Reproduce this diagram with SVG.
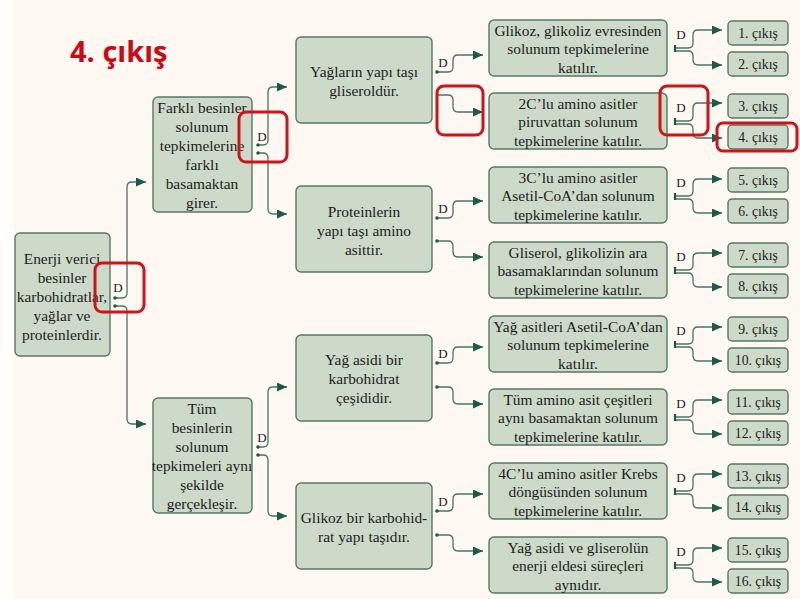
<svg xmlns="http://www.w3.org/2000/svg" width="800" height="599" viewBox="0 0 800 599">
<defs>
<marker id="ah" markerUnits="userSpaceOnUse" markerWidth="11" markerHeight="9" refX="10" refY="4.5" orient="auto">
<path d="M0,0 L10,4.5 L0,9 z" fill="#1d5b48"/>
</marker>
<style>
.bg{fill:#fdf8f2}
.box{fill:#cddac9;stroke:#577868;stroke-width:1.4}
.t{font-family:"Liberation Serif","Times New Roman",serif;font-size:15.4px;fill:#1c1c1c;text-anchor:middle}
.o{font-family:"Liberation Serif","Times New Roman",serif;font-size:13.7px;fill:#1c1c1c;text-anchor:middle}
.d{font-family:"Liberation Serif","Times New Roman",serif;font-size:13px;fill:#1c1c1c;text-anchor:middle}
.c{fill:none;stroke:#4c7264;stroke-width:1.3;marker-end:url(#ah)}
.dot{fill:#1d5b48}
.bar{stroke:#1d5b48;stroke-width:2.2}
.hl{fill:none;stroke:#d0121b;stroke-width:3}
.title{font-family:"Open Sans","Liberation Sans",sans-serif;font-weight:bold;font-size:29px;fill:#cc0a14}
</style>
</defs>
<rect width="800" height="599" fill="#fffefc"/>
<rect class="bg" x="14" y="0" width="786" height="599"/>

<text class="title" x="70" y="62">4. çıkış</text>

<g id="n0">
<rect class="box" x="15" y="233" width="95" height="123" rx="5"/>
<text class="t" x="62" y="264">Enerji verici</text>
<text class="t" x="62" y="283">besinler</text>
<text class="t" x="62" y="302">karbohidratlar,</text>
<text class="t" x="62" y="321">yağlar ve</text>
<text class="t" x="62" y="340">proteinlerdir.</text>
</g>

<g id="n1a">
<rect class="box" x="153" y="97" width="99" height="115" rx="5"/>
<text class="t" x="202" y="113">Farklı besinler</text>
<text class="t" x="202" y="132">solunum</text>
<text class="t" x="202" y="151">tepkimelerine</text>
<text class="t" x="202" y="170">farklı</text>
<text class="t" x="202" y="189">basamaktan</text>
<text class="t" x="202" y="208">girer.</text>
</g>

<g id="n1b">
<rect class="box" x="153" y="398" width="99" height="115" rx="5"/>
<text class="t" x="202" y="414">Tüm</text>
<text class="t" x="202" y="433">besinlerin</text>
<text class="t" x="202" y="452">solunum</text>
<text class="t" x="202" y="471">tepkimeleri aynı</text>
<text class="t" x="202" y="490">şekilde</text>
<text class="t" x="202" y="509">gerçekleşir.</text>
</g>

<g id="n2a">
<rect class="box" x="296" y="37" width="136" height="86" rx="5"/>
<text class="t" x="364" y="77">Yağların yapı taşı</text>
<text class="t" x="364" y="96">gliseroldür.</text>
</g>
<g id="n2b">
<rect class="box" x="296" y="186" width="136" height="86" rx="5"/>
<text class="t" x="364" y="217">Proteinlerin</text>
<text class="t" x="364" y="236">yapı taşı amino</text>
<text class="t" x="364" y="255">asittir.</text>
</g>
<g id="n2c">
<rect class="box" x="296" y="335" width="136" height="86" rx="5"/>
<text class="t" x="364" y="365">Yağ asidi bir</text>
<text class="t" x="364" y="384">karbohidrat</text>
<text class="t" x="364" y="403">çeşididir.</text>
</g>
<g id="n2d">
<rect class="box" x="296" y="483" width="136" height="86" rx="5"/>
<text class="t" x="364" y="523">Glikoz bir karbohid-</text>
<text class="t" x="364" y="542">rat yapı taşıdır.</text>
</g>

<g id="n3a">
<rect class="box" x="489" y="20" width="178" height="56" rx="5"/>
<text class="t" x="578" y="36">Glikoz, glikoliz evresinden</text>
<text class="t" x="578" y="54">solunum tepkimelerine</text>
<text class="t" x="578" y="73">katılır.</text>
</g>
<g id="n3b">
<rect class="box" x="489" y="93" width="178" height="56" rx="5"/>
<text class="t" x="578" y="109">2C’lu amino asitler</text>
<text class="t" x="578" y="127">piruvattan solunum</text>
<text class="t" x="578" y="146">tepkimelerine katılır.</text>
</g>
<g id="n3c">
<rect class="box" x="489" y="167" width="178" height="56" rx="5"/>
<text class="t" x="578" y="183">3C’lu amino asitler</text>
<text class="t" x="578" y="201">Asetil-CoA’dan solunum</text>
<text class="t" x="578" y="220">tepkimelerine katılır.</text>
</g>
<g id="n3d">
<rect class="box" x="489" y="242" width="178" height="56" rx="5"/>
<text class="t" x="578" y="258">Gliserol, glikolizin ara</text>
<text class="t" x="578" y="276">basamaklarından solunum</text>
<text class="t" x="578" y="295">tepkimelerine katılır.</text>
</g>
<g id="n3e">
<rect class="box" x="489" y="316" width="178" height="56" rx="5"/>
<text class="t" x="578" y="332">Yağ asitleri Asetil-CoA’dan</text>
<text class="t" x="578" y="350">solunum tepkimelerine</text>
<text class="t" x="578" y="369">katılır.</text>
</g>
<g id="n3f">
<rect class="box" x="489" y="389" width="178" height="56" rx="5"/>
<text class="t" x="578" y="405">Tüm amino asit çeşitleri</text>
<text class="t" x="578" y="423">aynı basamaktan solunum</text>
<text class="t" x="578" y="442">tepkimelerine katılır.</text>
</g>
<g id="n3g">
<rect class="box" x="489" y="463" width="178" height="56" rx="5"/>
<text class="t" x="578" y="479">4C’lu amino asitler Krebs</text>
<text class="t" x="578" y="497">döngüsünden solunum</text>
<text class="t" x="578" y="516">tepkimelerine katılır.</text>
</g>
<g id="n3h">
<rect class="box" x="489" y="537" width="178" height="56" rx="5"/>
<text class="t" x="578" y="553">Yağ asidi ve gliserolün</text>
<text class="t" x="578" y="571">enerji eldesi süreçleri</text>
<text class="t" x="578" y="590">aynıdır.</text>
</g>

<g id="outputs">
<g id="o1"><rect class="box" x="728" y="21" width="60" height="24" rx="4"/><text class="o" x="758" y="38">1. çıkış</text></g>
<g id="o2"><rect class="box" x="728" y="52" width="60" height="24" rx="4"/><text class="o" x="758" y="69">2. çıkış</text></g>
<g id="o3"><rect class="box" x="728" y="94" width="60" height="24" rx="4"/><text class="o" x="758" y="111">3. çıkış</text></g>
<g id="o4"><rect class="box" x="728" y="125" width="60" height="24" rx="4"/><text class="o" x="758" y="142">4. çıkış</text></g>
<g id="o5"><rect class="box" x="728" y="168" width="60" height="24" rx="4"/><text class="o" x="758" y="185">5. çıkış</text></g>
<g id="o6"><rect class="box" x="728" y="199" width="60" height="24" rx="4"/><text class="o" x="758" y="216">6. çıkış</text></g>
<g id="o7"><rect class="box" x="728" y="243" width="60" height="24" rx="4"/><text class="o" x="758" y="260">7. çıkış</text></g>
<g id="o8"><rect class="box" x="728" y="274" width="60" height="24" rx="4"/><text class="o" x="758" y="291">8. çıkış</text></g>
<g id="o9"><rect class="box" x="728" y="317" width="60" height="24" rx="4"/><text class="o" x="758" y="334">9. çıkış</text></g>
<g id="o10"><rect class="box" x="728" y="348" width="60" height="24" rx="4"/><text class="o" x="758" y="365">10. çıkış</text></g>
<g id="o11"><rect class="box" x="728" y="390" width="60" height="24" rx="4"/><text class="o" x="758" y="407">11. çıkış</text></g>
<g id="o12"><rect class="box" x="728" y="421" width="60" height="24" rx="4"/><text class="o" x="758" y="438">12. çıkış</text></g>
<g id="o13"><rect class="box" x="728" y="464" width="60" height="24" rx="4"/><text class="o" x="758" y="481">13. çıkış</text></g>
<g id="o14"><rect class="box" x="728" y="495" width="60" height="24" rx="4"/><text class="o" x="758" y="512">14. çıkış</text></g>
<g id="o15"><rect class="box" x="728" y="538" width="60" height="24" rx="4"/><text class="o" x="758" y="555">15. çıkış</text></g>
<g id="o16"><rect class="box" x="728" y="569" width="60" height="24" rx="4"/><text class="o" x="758" y="586">16. çıkış</text></g>
</g>

<g id="connectors">
<!-- level 0 -->
<path class="c" d="M115,298 H122 Q127,298 127,293 V187 Q127,182 132,182 H146"/>
<path class="c" d="M115,306 H122 Q127,306 127,311 V419 Q127,424 132,424 H146"/>
<circle class="dot" cx="115" cy="298" r="1.8"/><circle class="dot" cx="115" cy="306" r="1.8"/>
<text class="d" x="118" y="292">D</text>
<!-- level 1 -->
<path class="c" d="M258,145 H263 Q268,145 268,140 V92 Q268,87 273,87 H287"/>
<path class="c" d="M258,153 H263 Q268,153 268,158 V209 Q268,214 273,214 H287"/>
<circle class="dot" cx="258" cy="145" r="1.8"/><circle class="dot" cx="258" cy="153" r="1.8"/>
<text class="d" x="262" y="141">D</text>
<path class="c" d="M258,447 H263 Q268,447 268,442 V392 Q268,387 273,387 H287"/>
<path class="c" d="M258,455 H263 Q268,455 268,460 V511 Q268,516 273,516 H287"/>
<circle class="dot" cx="258" cy="447" r="1.8"/><circle class="dot" cx="258" cy="455" r="1.8"/>
<text class="d" x="262" y="442">D</text>
<!-- level 2 -->
<path class="c" d="M437,72 H448 Q453,72 453,67 V60 Q453,55 458,55 H483"/>
<path class="c" d="M437,95 H448 Q453,95 453,100 V107 Q453,112 458,112 H483"/>
<circle class="dot" cx="437" cy="72" r="1.8"/>
<text class="d" x="443" y="67">D</text>
<path class="c" d="M437,218 H448 Q453,218 453,213 V206 Q453,201 458,201 H483"/>
<path class="c" d="M437,241 H448 Q453,241 453,246 V252 Q453,257 458,257 H483"/>
<circle class="dot" cx="437" cy="218" r="1.8"/><circle class="dot" cx="437" cy="241" r="1.8"/>
<text class="d" x="443" y="213">D</text>
<path class="c" d="M437,363 H448 Q453,363 453,358 V352 Q453,347 458,347 H483"/>
<path class="c" d="M437,387 H448 Q453,387 453,392 V399 Q453,404 458,404 H483"/>
<circle class="dot" cx="437" cy="363" r="1.8"/><circle class="dot" cx="437" cy="387" r="1.8"/>
<text class="d" x="443" y="358">D</text>
<path class="c" d="M437,511 H448 Q453,511 453,506 V499 Q453,494 458,494 H483"/>
<path class="c" d="M437,535 H448 Q453,535 453,540 V546 Q453,551 458,551 H483"/>
<circle class="dot" cx="437" cy="511" r="1.8"/><circle class="dot" cx="437" cy="535" r="1.8"/>
<text class="d" x="443" y="506">D</text>
<!-- level 3 -->
<g id="r1"><path class="c" d="M675,48 H688 Q693,48 693,43 V35 Q693,30 698,30 H722"/><path class="c" d="M675,51 H688 Q693,51 693,56 V60 Q693,65 698,65 H722"/><line class="bar" x1="675" y1="45" x2="675" y2="52"/><text class="d" x="681" y="39">D</text></g>
<g id="r2"><path class="c" d="M675,121 H688 Q693,121 693,116 V108 Q693,103 698,103 H722"/><path class="c" d="M675,124 H688 Q693,124 693,129 V133 Q693,138 698,138 H722"/><line class="bar" x1="675" y1="118" x2="675" y2="125"/><text class="d" x="681" y="112">D</text></g>
<g id="r3"><path class="c" d="M675,196 H688 Q693,196 693,191 V184 Q693,179 698,179 H722"/><path class="c" d="M675,199 H688 Q693,199 693,204 V208 Q693,213 698,213 H722"/><line class="bar" x1="675" y1="193" x2="675" y2="200"/><text class="d" x="681" y="187">D</text></g>
<g id="r4"><path class="c" d="M675,270 H688 Q693,270 693,265 V258 Q693,253 698,253 H722"/><path class="c" d="M675,273 H688 Q693,273 693,278 V282 Q693,287 698,287 H722"/><line class="bar" x1="675" y1="267" x2="675" y2="274"/><text class="d" x="681" y="261">D</text></g>
<g id="r5"><path class="c" d="M675,344 H688 Q693,344 693,339 V332 Q693,327 698,327 H722"/><path class="c" d="M675,347 H688 Q693,347 693,352 V356 Q693,361 698,361 H722"/><line class="bar" x1="675" y1="341" x2="675" y2="348"/><text class="d" x="681" y="335">D</text></g>
<g id="r6"><path class="c" d="M675,417 H688 Q693,417 693,412 V405 Q693,400 698,400 H722"/><path class="c" d="M675,420 H688 Q693,420 693,425 V429 Q693,434 698,434 H722"/><line class="bar" x1="675" y1="414" x2="675" y2="421"/><text class="d" x="681" y="408">D</text></g>
<g id="r7"><path class="c" d="M675,491 H688 Q693,491 693,486 V479 Q693,474 698,474 H722"/><path class="c" d="M675,494 H688 Q693,494 693,499 V503 Q693,508 698,508 H722"/><line class="bar" x1="675" y1="488" x2="675" y2="495"/><text class="d" x="681" y="482">D</text></g>
<g id="r8"><path class="c" d="M675,565 H688 Q693,565 693,560 V553 Q693,548 698,548 H722"/><path class="c" d="M675,568 H688 Q693,568 693,573 V577 Q693,582 698,582 H722"/><line class="bar" x1="675" y1="562" x2="675" y2="569"/><text class="d" x="681" y="556">D</text></g>
</g>

<g id="highlights">
<rect class="hl" x="95" y="263" width="49" height="49" rx="7"/>
<rect class="hl" x="239" y="112" width="48" height="50" rx="7"/>
<rect class="hl" x="437" y="86" width="46" height="49" rx="7"/>
<rect class="hl" x="660" y="86" width="48" height="49" rx="7"/>
<rect class="hl" x="717" y="123" width="80" height="28" rx="6"/>
</g>
</svg>
